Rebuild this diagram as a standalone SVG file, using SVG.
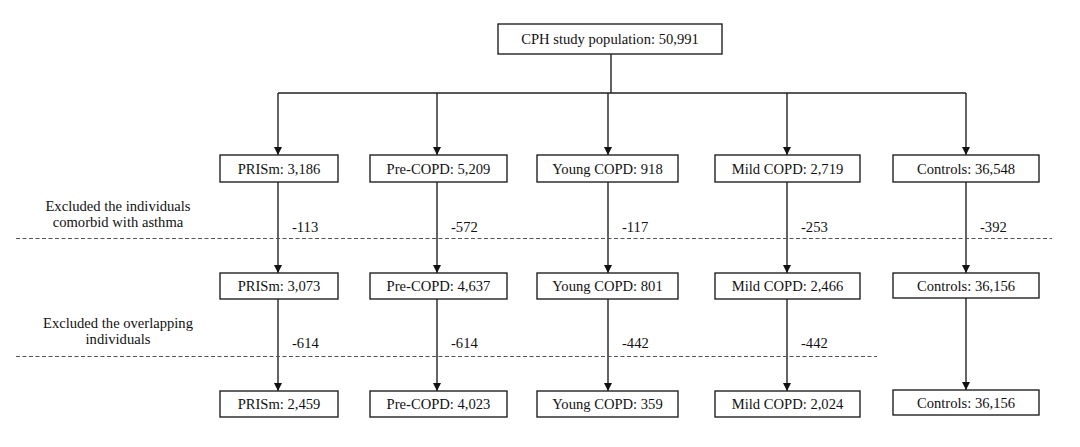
<svg xmlns="http://www.w3.org/2000/svg" width="1080" height="447" viewBox="0 0 1080 447">
<style>
.box{fill:#fff;stroke:#222;stroke-width:1.4}
.t{fill:#111;text-anchor:middle}
.n{fill:#111}
.c{fill:none;stroke:#222;stroke-width:1.4}
.d{fill:none;stroke:#555;stroke-width:1;stroke-dasharray:4,2.5}
</style>
<defs>
<marker id="ah" markerUnits="userSpaceOnUse" markerWidth="8" markerHeight="10" refX="8" refY="4" orient="auto">
<path d="M0,0 L8,4 L0,8 z" fill="#111"/>
</marker>
</defs>
<rect width="1080" height="447" fill="#fff"/>
<g id="connectors">
<path class="c" d="M611,54 V93 M278,93 H966"/>
<path class="c" d="M278,93 V155" marker-end="url(#ah)"/>
<path class="c" d="M437,93 V155" marker-end="url(#ah)"/>
<path class="c" d="M608,93 V155" marker-end="url(#ah)"/>
<path class="c" d="M787,93 V155" marker-end="url(#ah)"/>
<path class="c" d="M966,93 V155" marker-end="url(#ah)"/>
<path class="c" d="M278,182 V273" marker-end="url(#ah)"/>
<path class="c" d="M437,182 V273" marker-end="url(#ah)"/>
<path class="c" d="M608,182 V273" marker-end="url(#ah)"/>
<path class="c" d="M787,182 V273" marker-end="url(#ah)"/>
<path class="c" d="M966,182 V273" marker-end="url(#ah)"/>
<path class="c" d="M278,299 V391" marker-end="url(#ah)"/>
<path class="c" d="M437,299 V391" marker-end="url(#ah)"/>
<path class="c" d="M608,299 V391" marker-end="url(#ah)"/>
<path class="c" d="M787,299 V391" marker-end="url(#ah)"/>
<path class="c" d="M966,298 V390" marker-end="url(#ah)"/>
</g>
<g id="dividers">
<path class="d" d="M16,238.5 H1052"/>
<path class="d" d="M16,356.5 H877"/>
</g>
<g id="top"><rect class="box" x="498" y="24" width="224" height="30"/><text class="t" font-family="Liberation Serif" font-size="14.6" x="610" y="44">CPH study population: 50,991</text></g>
<g id="r1-prism"><rect class="box" x="220" y="155" width="118" height="27"/><text class="t" font-family="Liberation Serif" font-size="14.6" x="279" y="173.5">PRISm: 3,186</text></g>
<g id="r1-precopd"><rect class="box" x="370" y="155" width="137" height="27"/><text class="t" font-family="Liberation Serif" font-size="14.6" x="438.5" y="173.5">Pre-COPD: 5,209</text></g>
<g id="r1-young"><rect class="box" x="537" y="155" width="141" height="27"/><text class="t" font-family="Liberation Serif" font-size="14.6" x="607.5" y="173.5">Young COPD: 918</text></g>
<g id="r1-mild"><rect class="box" x="715" y="155" width="145" height="27"/><text class="t" font-family="Liberation Serif" font-size="14.6" x="787.5" y="173.5">Mild COPD: 2,719</text></g>
<g id="r1-controls"><rect class="box" x="893" y="155" width="146" height="27"/><text class="t" font-family="Liberation Serif" font-size="14.6" x="966" y="173.5">Controls: 36,548</text></g>
<g id="r2-prism"><rect class="box" x="220" y="273" width="118" height="26"/><text class="t" font-family="Liberation Serif" font-size="14.6" x="279" y="291">PRISm: 3,073</text></g>
<g id="r2-precopd"><rect class="box" x="370" y="273" width="137" height="26"/><text class="t" font-family="Liberation Serif" font-size="14.6" x="438.5" y="291">Pre-COPD: 4,637</text></g>
<g id="r2-young"><rect class="box" x="537" y="273" width="141" height="26"/><text class="t" font-family="Liberation Serif" font-size="14.6" x="607.5" y="291">Young COPD: 801</text></g>
<g id="r2-mild"><rect class="box" x="715" y="273" width="145" height="26"/><text class="t" font-family="Liberation Serif" font-size="14.6" x="787.5" y="291">Mild COPD: 2,466</text></g>
<g id="r2-controls"><rect class="box" x="893" y="273" width="146" height="25"/><text class="t" font-family="Liberation Serif" font-size="14.6" x="966" y="290.5">Controls: 36,156</text></g>
<g id="r3-prism"><rect class="box" x="220" y="391" width="118" height="26"/><text class="t" font-family="Liberation Serif" font-size="14.6" x="279" y="409">PRISm: 2,459</text></g>
<g id="r3-precopd"><rect class="box" x="370" y="391" width="137" height="26"/><text class="t" font-family="Liberation Serif" font-size="14.6" x="438.5" y="409">Pre-COPD: 4,023</text></g>
<g id="r3-young"><rect class="box" x="537" y="391" width="141" height="26"/><text class="t" font-family="Liberation Serif" font-size="14.6" x="607.5" y="409">Young COPD: 359</text></g>
<g id="r3-mild"><rect class="box" x="715" y="391" width="145" height="26"/><text class="t" font-family="Liberation Serif" font-size="14.6" x="787.5" y="409">Mild COPD: 2,024</text></g>
<g id="r3-controls"><rect class="box" x="893" y="390" width="146" height="25"/><text class="t" font-family="Liberation Serif" font-size="14.6" x="966" y="407.5">Controls: 36,156</text></g>
<g id="labels">
<text class="t" font-family="Liberation Serif" font-size="14.6" x="118" y="211">Excluded the individuals</text>
<text class="t" font-family="Liberation Serif" font-size="14.6" x="118" y="227">comorbid with asthma</text>
<text class="t" font-family="Liberation Serif" font-size="14.6" x="118" y="328">Excluded the overlapping</text>
<text class="t" font-family="Liberation Serif" font-size="14.6" x="118" y="344">individuals</text>
<text class="n" font-family="Liberation Serif" font-size="14.6" x="292" y="232">-113</text>
<text class="n" font-family="Liberation Serif" font-size="14.6" x="451" y="232">-572</text>
<text class="n" font-family="Liberation Serif" font-size="14.6" x="622" y="232">-117</text>
<text class="n" font-family="Liberation Serif" font-size="14.6" x="801" y="232">-253</text>
<text class="n" font-family="Liberation Serif" font-size="14.6" x="980" y="232">-392</text>
<text class="n" font-family="Liberation Serif" font-size="14.6" x="292" y="348">-614</text>
<text class="n" font-family="Liberation Serif" font-size="14.6" x="451" y="348">-614</text>
<text class="n" font-family="Liberation Serif" font-size="14.6" x="622" y="348">-442</text>
<text class="n" font-family="Liberation Serif" font-size="14.6" x="801" y="348">-442</text>
</g>
</svg>
